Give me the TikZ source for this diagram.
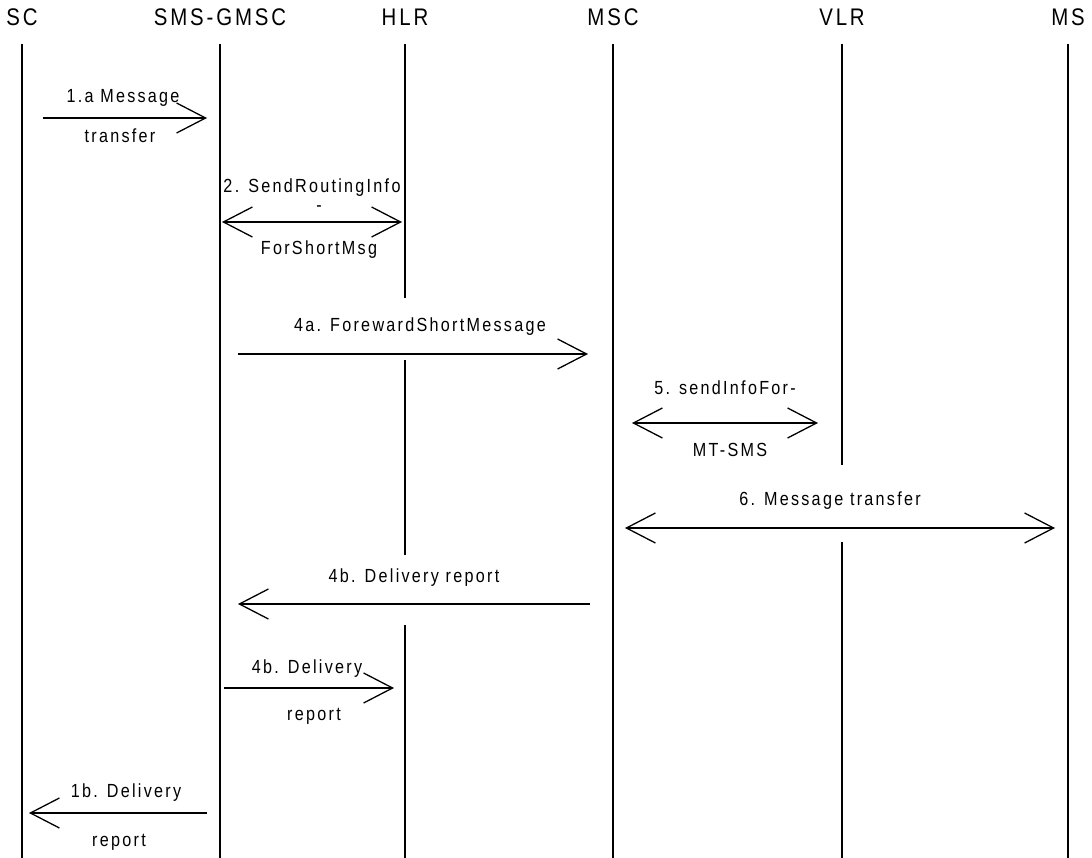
\documentclass[tikz,border=0pt]{standalone}
\usepackage{fontspec}
\setmainfont{Liberation Sans}[FakeStretch=0.85,LetterSpace=12]
\usetikzlibrary{arrows.meta}

\tikzset{
  hdr/.style={font=\fontsize{24}{28}\selectfont, inner sep=0pt},
  lbl/.style={font=\fontsize{19}{22}\selectfont, inner sep=0pt, anchor=base},
  gapbox/.style={lbl, fill=white},
  life/.style={line width=1.3pt},
  msg/.style={line width=1.3pt}
}

\begin{document}
\begin{tikzpicture}[x=1pt,y=-1pt,>={Straight Barb[length=29pt,width=30pt]}]
  \useasboundingbox (0,0) rectangle (1092,858);
  \def\ytop{44}
  \def\ybot{858}

  % lifelines
  \foreach \n/\t/\x in {sc/SC/22,gmsc/SMS-GMSC/220,hlr/HLR/405,msc/MSC/613,vlr/VLR/842,ms/MS/1068} {
    \node[hdr] (\n) at (\x,17) {\t};
    \coordinate (\n-top) at (\x,\ytop);
    \coordinate (\n-bot) at (\x,\ybot);
    \draw[life] (\n-top) -- (\n-bot);
  }

  % labels
  \node[lbl] (m1a-t) at (123,103) {1.a Message};
  \node[lbl] (m1a-b) at (120,143) {transfer};
  \node[lbl] (m2-t) at (312,193) {2. SendRoutingInfo};
  \node[lbl] (m2-m) at (319,212) {-};
  \node[lbl] (m2-b) at (319,255) {ForShortMsg};
  \node[gapbox,text height=34pt,text depth=28pt] (m4a-t) at (420,332) {4a. ForewardShortMessage};
  \node[lbl] (m5-t) at (725,395) {5. sendInfoFor-};
  \node[lbl] (m5-b) at (730,456) {MT-SMS};
  \node[gapbox,text height=40pt,text depth=37pt] (m6-t) at (830,505) {6. Message transfer};
  \node[gapbox,text height=27pt,text depth=43pt] (m4b-t) at (414,582) {4b. Delivery report};
  \node[lbl] (m4c-t) at (307,673) {4b. Delivery};
  \node[lbl] (m4c-b) at (314,720) {report};
  \node[lbl] (m1b-t) at (126,797) {1b. Delivery};
  \node[lbl] (m1b-b) at (119,846) {report};

  % arrow ends
  \coordinate (a1a) at (43,118);  \coordinate (b1a) at (207,118);
  \coordinate (a2) at (222,222);  \coordinate (b2) at (402,222);
  \coordinate (a4a) at (238,354); \coordinate (b4a) at (588,354);
  \coordinate (a5) at (632,423);  \coordinate (b5) at (818,423);
  \coordinate (a6) at (625,528);  \coordinate (b6) at (1055,528);
  \coordinate (a4b) at (590,604); \coordinate (b4b) at (238,604);
  \coordinate (a4c) at (224,688); \coordinate (b4c) at (394,688);
  \coordinate (a1b) at (207,813); \coordinate (b1b) at (29,813);

  \foreach \m in {1a,4a,4b,4c,1b}
    \draw[msg,->] (a\m) -- (b\m);
  \foreach \m in {2,5,6}
    \draw[msg,<->] (a\m) -- (b\m);
\end{tikzpicture}
\end{document}
